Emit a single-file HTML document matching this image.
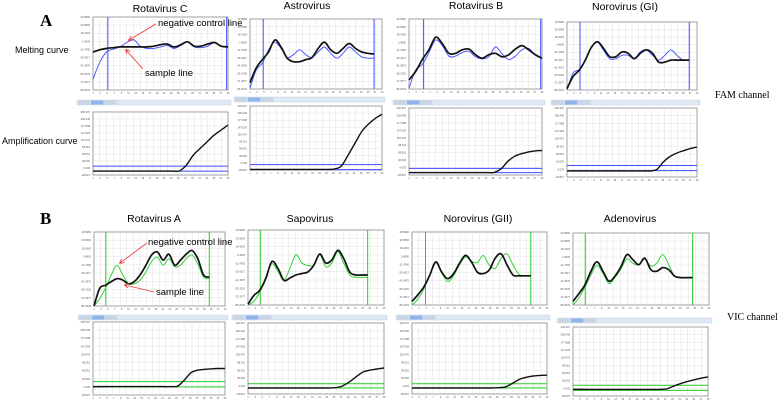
<!DOCTYPE html>
<html><head><meta charset="utf-8"><style>
body{margin:0;background:#fff;width:784px;height:405px;overflow:hidden;font-family:"Liberation Sans",sans-serif;}
svg{display:block}
</style></head><body>
<svg id="fig" width="784" height="405" viewBox="0 0 784 405" xmlns="http://www.w3.org/2000/svg">
<text x="40" y="26" font-family="Liberation Serif" font-weight="bold" font-size="17">A</text>
<text x="40" y="224" font-family="Liberation Serif" font-weight="bold" font-size="17">B</text>
<text x="15" y="53" font-size="9">Melting curve</text>
<text x="2" y="144" font-size="9">Amplification curve</text>
<text x="715" y="98" font-family="Liberation Serif" font-size="10">FAM channel</text>
<text x="727" y="320" font-family="Liberation Serif" font-size="10">VIC channel</text>
<g id="panels"></g>
<g id="annot"></g>
</svg>
<script>
// ---- data ----
const titles = ["Rotavirus C","Astrovirus","Rotavirus B","Norovirus (GI)","Rotavirus A","Sapovirus","Norovirus (GII)","Adenovirus"];
const meltSample = [
 [52,55,57,58,59,59,59,59,59,60,62,63,59,62,66,60,60,63,65,60,59],
 [9,30,42,53,70,60,44,39,39,42,45,58,67,56,51,58,65,58,53,51,50],
 [13,25,42,56,74,65,51,51,56,57,49,44,49,51,46,49,57,62,56,49,44],
 [2,20,29,44,63,71,61,49,49,56,54,46,54,59,54,41,41,44,44,44,44],
 [0,24,28,33,37,35,30,33,42,55,69,73,62,70,55,62,70,75,64,42,39],
 [1,13,20,36,58,49,33,36,40,42,44,53,68,56,60,73,62,44,40,40,40],
 [5,14,25,41,59,45,36,43,57,68,59,45,43,48,64,70,55,41,40,40,40],
 [5,16,28,47,60,47,33,40,53,70,63,56,65,49,47,52,49,40,38,38,38]
];
const meltControl = [
 [15,38,52,56,59,65,69,60,57,57,59,61,57,61,66,59,58,60,65,60,59],
 [1,27,37,56,67,58,45,49,56,49,45,53,60,51,44,51,60,53,46,44,44],
 [1,27,35,52,70,62,47,47,52,54,46,43,46,60,50,42,47,56,58,48,44],
 [0,25,30,44,62,70,58,46,46,51,51,46,56,59,51,44,51,59,51,44,44],
 [0,10,24,42,55,42,30,30,35,46,60,66,55,64,53,55,64,69,57,39,37],
 [0,5,18,38,55,45,33,49,67,56,53,53,67,51,56,71,56,40,37,37,37],
 [0,8,22,40,58,44,32,40,55,66,60,58,68,55,50,64,70,55,42,40,40],
 [0,10,25,42,55,44,30,38,50,64,58,56,64,54,58,70,56,40,38,38,38]
];
const meltMarkers = [[0.11,0.99],[0.1,0.94],[0.11,0.99],[0.1,0.94],[0.09,0.88],[0.09,0.88],[0.1,0.88],[0.09,0.88]];
const ampCycles = [1,10,20,24,26,28,30,32,34,36,38,40];
const ampSample = [
 [-13,-13,-13,-13,-12,13,55,83,111,139,160,181],
 [-27,-27,-27,-27,-25,-13,33,81,130,161,185,202],
 [-20,-20,-20,-20,-19,-5,25,45,55,62,66,68],
 [-6,-6,-6,-6,-6,0,30,50,63,72,80,86],
 [1,1,1,1,3,25,52,61,64,66,67,67],
 [-7,-7,-7,-7,-6,0,15,35,53,60,64,68],
 [-7,-7,-7,-7,-6,-3,10,25,33,38,40,41],
 [-4,-4,-4,-4,-4,-2,8,18,26,33,39,44]
];
const ampThreshold = [8,-7,-3,15,19,9,9,12];
const ampBaseline = [-13,-28,-20,-5,0,-7,-7,-8];
const ampTicks = ["236.307","206.940","177.588","147.929","118.470","88.011","59.551","30.092","0.633","-28.827"];
const meltTicks = ["40.5966","33.5566","18.4163","2.4600","-11.4760","-25.4217","-41.3670","-55.3120","-71.2577","-86.2033"];
// ---- layout ----
const geo = [
 {m:[93,17,135,73],t:100,a:[93,112,135,63],tx:160,ty:12,c:"#3d4dff"},
 {m:[250,19,132,70],t:97,a:[250,106,132,64],tx:307,ty:9,c:"#3d4dff"},
 {m:[409,19,133,70],t:100,a:[409,108,133,67],tx:476,ty:9,c:"#3d4dff"},
 {m:[567,22,130,68],t:100,a:[567,108,130,69],tx:625,ty:10,c:"#3d4dff"},
 {m:[94,232,131,74],t:315,a:[93,322,132,73],tx:154,ty:222,c:"#22cc22"},
 {m:[248,230,136,75],t:315,a:[248,323,136,71],tx:310,ty:222,c:"#22cc22"},
 {m:[412,232,135,73],t:315,a:[412,323,135,71],tx:478,ty:222,c:"#22cc22"},
 {m:[573,233,136,72],t:318,a:[573,327,135,69],tx:630,ty:222,c:"#22cc22"}
];
const NS="http://www.w3.org/2000/svg";
function mk(tag,attrs,parent){const e=document.createElementNS(NS,tag);for(const k in attrs)e.setAttribute(k,attrs[k]);parent.appendChild(e);return e;}
function smooth(pts){let d="M"+pts[0][0]+","+pts[0][1];for(let i=0;i<pts.length-1;i++){const p0=pts[Math.max(0,i-1)],p1=pts[i],p2=pts[i+1],p3=pts[Math.min(pts.length-1,i+2)];
 const c1=[p1[0]+(p2[0]-p0[0])/6,p1[1]+(p2[1]-p0[1])/6],c2=[p2[0]-(p3[0]-p1[0])/6,p2[1]-(p3[1]-p1[1])/6];
 d+=" C"+c1[0].toFixed(1)+","+c1[1].toFixed(1)+" "+c2[0].toFixed(1)+","+c2[1].toFixed(1)+" "+p2[0].toFixed(1)+","+p2[1].toFixed(1);}return d;}
function frame(g,r,ticks,name){
 const [x,y,w,h]=r;
 const p=mk("rect",{x:x,y:y,width:w,height:h,fill:"#fff",stroke:"#888","stroke-width":0.8},g);
 
 
 for(let i=1;i<9;i++){mk("line",{x1:x,x2:x+w,y1:y+h*i/9,y2:y+h*i/9,stroke:"#e2e2e2","stroke-width":0.5},g);}
 for(let i=1;i<20;i++){mk("line",{x1:x+w*i/20,x2:x+w*i/20,y1:y,y2:y+h,stroke:"#e2e2e2","stroke-width":0.5},g);}
 ticks.forEach((t,i)=>{const e=mk("text",{x:x-3,y:y+h*i/9+1,"font-size":2.6,"text-anchor":"end",fill:"#555"},g);e.textContent=t;
  
  });
 for(let i=0;i<20;i++){const e=mk("text",{x:x+w*i/19,y:y+h+4,"font-size":2.4,"text-anchor":"middle",fill:"#555"},g);e.textContent=String(1+2*i);}
}
const root=document.getElementById("panels");
geo.forEach((G,k)=>{
 const g=mk("g",{},root);
 
 
 const tt=mk("text",{x:G.tx,y:G.ty,"font-size":10.5,"text-anchor":"middle"},g);tt.textContent=titles[k];
 
 
 frame(g,G.m,meltTicks,'melt');
 const [mx,my,mw,mh]=G.m;
 const xEnd=meltMarkers[k][1]>0.95?1:meltMarkers[k][1];
 const xs=i=>mx+mw*xEnd*i/20, ys=v=>my+mh*(1-v/100);
 meltMarkers[k].forEach(f=>{const l=mk("line",{x1:mx+mw*f,x2:mx+mw*f,y1:my,y2:my+mh,stroke:G.c,"stroke-width":1},g);
  
  });
 const pc=mk("path",{d:smooth(meltControl[k].map((v,i)=>[xs(i),ys(v)])),fill:"none",stroke:G.c,"stroke-width":0.9},g);
 
 
 const ps=mk("path",{d:smooth(meltSample[k].map((v,i)=>[xs(i),ys(v)])),fill:"none",stroke:"#111","stroke-width":1.7},g);
 
 
 const tb=mk("rect",{x:mx-16,y:G.t,width:mw+19,height:5,fill:"#dfe8f5",stroke:"#b8c8e0","stroke-width":0.4},g);
 
 
 [0,1,2].forEach(j=>{const r=mk("rect",{x:mx-15+j*13,y:G.t+0.5,width:12.5,height:4,fill:j==1?"#8fb4ea":"#c9d4e4"},g);
  
  });
 frame(g,G.a,ampTicks,'amp');
 const [ax,ay,aw,ah]=G.a;
 const cx=c=>ax+aw*(c-1)/39, cy=v=>ay+ah*(1-(v+29.5)/265.8);
 const th=mk("line",{x1:ax,x2:ax+aw,y1:cy(ampThreshold[k]),y2:cy(ampThreshold[k]),stroke:G.c,"stroke-width":1},g);
 
 
 const bl=mk("line",{x1:ax,x2:ax+aw,y1:cy(ampBaseline[k]),y2:cy(ampBaseline[k]),stroke:G.c,"stroke-width":1},g);
 
 
 const ap=mk("path",{d:smooth(ampCycles.map((c,i)=>[cx(c),cy(ampSample[k][i])])),fill:"none",stroke:"#111","stroke-width":1.4},g);
 
 
});
const an=document.getElementById("annot");
mk("defs",{},an).innerHTML='<marker id="ah" markerWidth="6" markerHeight="6" refX="5" refY="3" orient="auto"><path d="M0,0 L6,3 L0,6" fill="none" stroke="#e33" stroke-width="1"/></marker>';
[[158,26,"negative control line",156,24,129,40],[145,76,"sample line",143,69,126,50],[148,245,"negative control line",147,243,120,263],[156,295,"sample line",154,292,125,285]].forEach(a=>{
 const t=mk("text",{x:a[0],y:a[1],"font-size":9.5},an);t.textContent=a[2];
 
 
 const l=mk("line",{x1:a[3],y1:a[4],x2:a[5],y2:a[6],stroke:"#e33","stroke-width":0.8,"marker-end":"url(#ah)"},an);
 
 
});
</script>
</body></html>
